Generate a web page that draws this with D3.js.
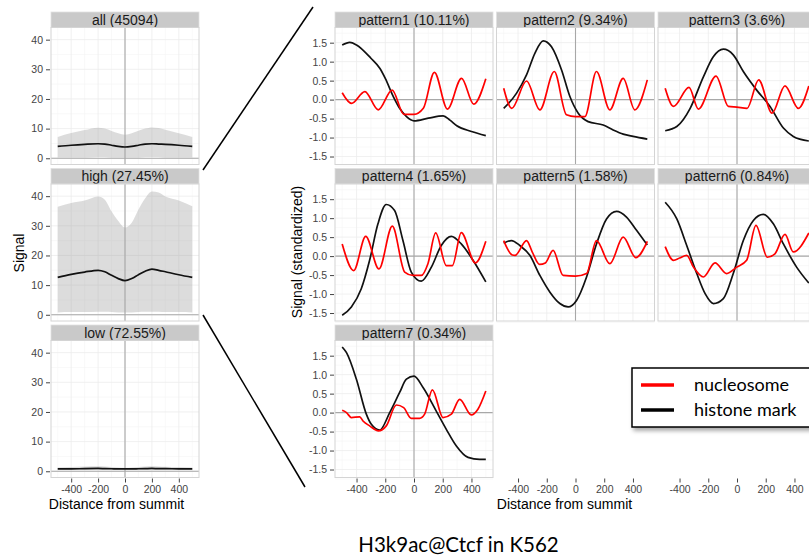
<!DOCTYPE html>
<html>
<head>
<meta charset="utf-8">
<script src="https://cdn.jsdelivr.net/npm/d3@7"></script>
<style>
  body { margin: 0; background: #fff; }
  svg { display: block; font-family: "Liberation Sans", Arial, sans-serif; }
</style>
</head>
<body>
<script>
// ---- data ----
var leftX = [-500, -400, -300, -200, -150, -100, -50, 0, 50, 100, 150, 200, 250, 300, 400, 500];
var leftNames = ['all (45094)', 'high (27.45%)', 'low (72.55%)'];
var allMean  = [4.0, 4.4, 4.7, 4.9, 4.8, 4.4, 4.0, 3.8, 4.0, 4.4, 4.8, 4.9, 4.8, 4.7, 4.4, 4.0];
var allUpper = [7.2, 8.5, 9.5, 10.3, 10.0, 9.2, 8.4, 7.9, 8.4, 9.3, 10.0, 10.4, 10.2, 9.6, 8.4, 7.2];
var allLower = [0.3, 0.3, 0.3, 0.4, 0.4, 0.3, 0.3, 0.3, 0.3, 0.3, 0.4, 0.4, 0.4, 0.3, 0.3, 0.3];
var highMean  = [12.6, 13.6, 14.4, 15.0, 14.5, 13.3, 12.2, 11.5, 12.2, 13.5, 14.7, 15.4, 15.0, 14.5, 13.5, 12.6];
var highUpper = [36.4, 37.7, 38.5, 39.9, 38.8, 34.9, 31.6, 29.4, 31.0, 35.5, 39.3, 41.6, 41.2, 39.9, 38.5, 36.6];
var highLower = [0.8, 0.9, 0.9, 1.0, 1.0, 0.9, 0.8, 0.8, 0.8, 0.9, 1.0, 1.0, 1.0, 0.9, 0.9, 0.8];
var lowMean  = [0.8, 0.8, 0.9, 0.95, 0.9, 0.85, 0.8, 0.8, 0.8, 0.85, 0.9, 0.95, 0.9, 0.9, 0.8, 0.8];
var lowUpper = [1.3, 1.4, 1.6, 1.7, 1.6, 1.4, 1.3, 1.2, 1.3, 1.4, 1.6, 1.7, 1.6, 1.5, 1.4, 1.3];
var lowLower = [0.4, 0.4, 0.4, 0.4, 0.4, 0.4, 0.4, 0.4, 0.4, 0.4, 0.4, 0.4, 0.4, 0.4, 0.4, 0.4];

var patternNames = ['pattern1 (10.11%)', 'pattern2 (9.34%)', 'pattern3 (3.6%)', 'pattern4 (1.65%)',
  'pattern5 (1.58%)', 'pattern6 (0.84%)', 'pattern7 (0.34%)'];

var p1Mark = [[-500,1.44],[-447,1.51],[-400,1.44],[-300,1.09],[-237,0.82],[-200,0.56],[-144,0.08],[-100,-0.23],[-52,-0.45],[0,-0.56],[100,-0.49],[203,-0.43],[250,-0.54],[298,-0.69],[400,-0.84],[500,-0.95]];
var p1Nuc = [[-500,0.18],[-435,-0.1],[-342,0.21],[-249,-0.27],[-152,0.25],[-70,-0.39],[0,-0.39],[65,-0.23],[142,0.72],[233,-0.25],[331,0.56],[416,-0.12],[500,0.55]];
var p2Mark = [[-500,-0.23],[-410,0.17],[-341,0.65],[-283,1.22],[-225,1.55],[-167,1.39],[-97,0.78],[-39,0.08],[19,-0.36],[88,-0.58],[193,-0.67],[262,-0.8],[332,-0.91],[401,-0.97],[500,-1.04]];
var p2Nuc = [[-500,0.3],[-444,-0.23],[-341,0.49],[-248,-0.27],[-148,0.74],[-63,-0.4],[0,-0.45],[65,-0.45],[146,0.74],[239,-0.27],[332,0.56],[413,-0.27],[500,0.52]];
var p3Mark = [[-500,-0.82],[-419,-0.71],[-326,-0.23],[-234,0.6],[-165,1.13],[-95,1.33],[-26,1.18],[44,0.74],[137,0.25],[230,-0.18],[323,-0.75],[392,-0.97],[500,-1.09]];
var p3Nuc = [[-500,0.3],[-442,-0.18],[-334,0.32],[-269,-0.25],[-146,0.62],[-60,-0.18],[0,-0.2],[70,-0.23],[151,0.52],[244,-0.36],[334,0.36],[427,-0.23],[500,0.36]];
var p4Mark = [[-500,-1.56],[-436,-1.34],[-367,-0.86],[-309,-0.11],[-251,0.85],[-193,1.36],[-135,1.2],[-77,0.41],[-19,-0.42],[51,-0.66],[121,-0.29],[190,0.28],[260,0.52],[329,0.32],[411,-0.11],[500,-0.68]];
var p4Nuc = [[-500,0.32],[-420,-0.38],[-336,0.52],[-244,-0.34],[-151,0.79],[-65,-0.42],[-7,-0.51],[51,-0.51],[97,-0.2],[151,0.61],[225,-0.25],[267,-0.25],[329,0.62],[427,-0.18],[500,0.39]];
var p5Mark = [[-500,0.34],[-446,0.41],[-388,0.28],[-318,0.02],[-248,-0.51],[-178,-0.95],[-109,-1.25],[-51,-1.34],[7,-1.17],[77,-0.55],[146,0.32],[216,0.98],[286,1.18],[355,1.03],[425,0.68],[500,0.29]];
var p5Nuc = [[-500,0.41],[-440,0.03],[-420,0.02],[-341,0.41],[-300,0.1],[-250,-0.22],[-210,-0.18],[-156,0.15],[-86,-0.51],[0,-0.53],[77,-0.46],[146,0.41],[239,-0.2],[332,0.5],[420,-0.04],[500,0.39]];
var p6Mark = [[-500,1.42],[-419,0.98],[-350,0.28],[-280,-0.46],[-222,-0.99],[-164,-1.25],[-95,-1.12],[-26,-0.46],[44,0.41],[114,0.94],[183,1.1],[253,0.85],[323,0.32],[415,-0.29],[500,-0.71]];
var p6Nuc = [[-500,0.25],[-442,-0.11],[-400,-0.05],[-350,0.02],[-303,-0.29],[-234,-0.55],[-153,-0.18],[-72,-0.46],[-2,-0.29],[67,-0.11],[132,0.81],[211,-0.03],[264,0.06],[334,0.57],[392,0.11],[500,0.61]];
var p7Mark = [[-500,1.73],[-470,1.58],[-401,0.88],[-332,-0.04],[-297,-0.31],[-239,-0.46],[-169,0],[-100,0.53],[-53,0.88],[0,0.96],[63,0.66],[155,0.04],[225,-0.44],[295,-0.88],[376,-1.18],[457,-1.23],[500,-1.23]];
var p7Nuc = [[-500,0.06],[-470,0],[-436,-0.13],[-378,-0.11],[-355,-0.22],[-309,-0.35],[-248,-0.48],[-193,-0.35],[-123,0.2],[-72,0.13],[-19,-0.15],[39,-0.15],[74,-0.04],[128,0.6],[202,-0.13],[260,-0.04],[318,0.35],[399,-0.06],[445,0.09],[500,0.57]];

var xTicks = [-400, -200, 0, 200, 400];
var xMinor = [-500, -300, -100, 100, 300, 500];
var leftYTicks = [0, 10, 20, 30, 40];
var leftYMinor = [5, 15, 25, 35];
var rightYTicks = [-1.5, -1.0, -0.5, 0.0, 0.5, 1.0, 1.5];
var rightYMinor = [-1.75, -1.25, -0.75, -0.25, 0.25, 0.75, 1.25, 1.75];

// ---- layout ----
var W = 809, H = 557;
var rowTop = [12, 168.5, 325];
var stripH = 15.5, panelH = 137;
var leftX0 = 51, leftW = 148;
var colX0 = [335, 496.5, 658], colW = 158;

var svg = d3.select('body').append('svg').attr('width', W).attr('height', H);

var defs = svg.append('defs');
defs.append('filter').attr('id', 'shadow').attr('x', '-10%').attr('y', '-20%').attr('width', '130%').attr('height', '160%')
  .append('feDropShadow').attr('dx', 2).attr('dy', 3).attr('stdDeviation', 2)
  .attr('flood-color', '#000').attr('flood-opacity', 0.35);

var drawPanel = function(x0, top, w, label, xs, ys, yTicks, yMinor) {
  var g = svg.append('g');
  var pTop = top + stripH;
  // strip
  g.append('rect').attr('x', x0).attr('y', top).attr('width', w).attr('height', stripH)
    .attr('fill', '#c9c9c9').attr('stroke', '#e0e0e0').attr('stroke-width', 0.8);
  g.append('text').attr('x', x0 + w / 2).attr('y', top + stripH / 2 + 5)
    .attr('text-anchor', 'middle').attr('font-size', 14).attr('fill', '#1a1a1a').text(label);
  // background + grid
  g.append('rect').attr('x', x0).attr('y', pTop).attr('width', w).attr('height', panelH).attr('fill', '#fff');
  yMinor.forEach(function(v) {
    g.append('line').attr('x1', x0).attr('x2', x0 + w).attr('y1', ys(v)).attr('y2', ys(v))
      .attr('stroke', '#f5f5f5').attr('stroke-width', 0.6);
  });
  xMinor.forEach(function(v) {
    g.append('line').attr('x1', xs(v)).attr('x2', xs(v)).attr('y1', pTop).attr('y2', pTop + panelH)
      .attr('stroke', '#f5f5f5').attr('stroke-width', 0.6);
  });
  yTicks.forEach(function(v) {
    g.append('line').attr('x1', x0).attr('x2', x0 + w).attr('y1', ys(v)).attr('y2', ys(v))
      .attr('stroke', '#ececec').attr('stroke-width', 0.8);
  });
  xTicks.forEach(function(v) {
    g.append('line').attr('x1', xs(v)).attr('x2', xs(v)).attr('y1', pTop).attr('y2', pTop + panelH)
      .attr('stroke', '#ececec').attr('stroke-width', 0.8);
  });
  return g;
};

var finishPanel = function(g, x0, top, w, xs, ys) {
  var pTop = top + stripH;
  g.append('line').attr('x1', x0).attr('x2', x0 + w).attr('y1', ys(0)).attr('y2', ys(0))
    .attr('stroke', '#a8a8a8').attr('stroke-width', 1.1);
  g.append('line').attr('x1', xs(0)).attr('x2', xs(0)).attr('y1', pTop).attr('y2', pTop + panelH)
    .attr('stroke', '#a8a8a8').attr('stroke-width', 1.1);
  g.append('rect').attr('x', x0).attr('y', pTop).attr('width', w).attr('height', panelH)
    .attr('fill', 'none').attr('stroke', '#d4d4d4').attr('stroke-width', 1);
};

var tickFmt = function(d) { return d.toFixed(1); };

var styleAxis = function(sel) {
  sel.select('.domain').remove();
  sel.selectAll('.tick line').attr('stroke', '#444');
  sel.selectAll('.tick text').attr('fill', '#444').attr('font-size', 10.5)
    .attr('font-family', '"Liberation Sans", Arial, sans-serif');
};

// ---- left column ----
var leftMeans = [allMean, highMean, lowMean];
var leftUppers = [allUpper, highUpper, lowUpper];
var leftLowers = [allLower, highLower, lowLower];
var lxs = d3.scaleLinear().domain([-550, 550]).range([leftX0, leftX0 + leftW]);

leftNames.forEach(function(name, i) {
  var pTop = rowTop[i] + stripH;
  var ys = d3.scaleLinear().domain([-2.1, 44.1]).range([pTop + panelH, pTop]);
  var g = drawPanel(leftX0, rowTop[i], leftW, name, lxs, ys, leftYTicks, leftYMinor);
  var area = d3.area().x(function(d, j) { return lxs(leftX[j]); })
    .y0(function(d, j) { return ys(leftLowers[i][j]); })
    .y1(function(d) { return ys(d); })
    .curve(d3.curveMonotoneX);
  g.append('path').datum(leftUppers[i]).attr('d', area).attr('fill', '#9a9a9a').attr('fill-opacity', 0.35);
  finishPanel(g, leftX0, rowTop[i], leftW, lxs, ys);
  var line = d3.line().x(function(d, j) { return lxs(leftX[j]); }).y(function(d) { return ys(d); })
    .curve(d3.curveMonotoneX);
  g.append('path').datum(leftMeans[i]).attr('d', line).attr('fill', 'none')
    .attr('stroke', '#111').attr('stroke-width', 1.7);
  var ya = svg.append('g').attr('transform', 'translate(' + (leftX0 - 1) + ',0)')
    .call(d3.axisLeft(ys).tickValues(leftYTicks).tickSize(4).tickPadding(3));
  styleAxis(ya);
});

var lxa = svg.append('g').attr('transform', 'translate(0,' + (rowTop[2] + stripH + panelH + 1) + ')')
  .call(d3.axisBottom(lxs).tickValues(xTicks).tickSize(4).tickPadding(3).tickFormat(String));
styleAxis(lxa);

svg.append('text').attr('x', 116.5).attr('y', 509).attr('text-anchor', 'middle')
  .attr('font-size', 14).attr('fill', '#000').text('Distance from summit');
svg.append('text').attr('transform', 'translate(24,253) rotate(-90)').attr('text-anchor', 'middle')
  .attr('font-size', 14).attr('fill', '#000').text('Signal');

// ---- pattern grid ----
var marks = [p1Mark, p2Mark, p3Mark, p4Mark, p5Mark, p6Mark, p7Mark];
var nucs = [p1Nuc, p2Nuc, p3Nuc, p4Nuc, p5Nuc, p6Nuc, p7Nuc];

patternNames.forEach(function(name, i) {
  var col = i % 3, row = Math.floor(i / 3);
  var x0 = colX0[col], pTop = rowTop[row] + stripH;
  var xs = d3.scaleLinear().domain([-550, 550]).range([x0, x0 + colW]);
  var ys = d3.scaleLinear().domain([-1.71, 1.9]).range([pTop + panelH, pTop]);
  var g = drawPanel(x0, rowTop[row], colW, name, xs, ys, rightYTicks, rightYMinor);
  finishPanel(g, x0, rowTop[row], colW, xs, ys);
  var line = d3.line().x(function(d) { return xs(d[0]); }).y(function(d) { return ys(d[1]); })
    .curve(d3.curveMonotoneX);
  g.append('path').datum(marks[i]).attr('d', line).attr('fill', 'none')
    .attr('stroke', '#111').attr('stroke-width', 1.7);
  g.append('path').datum(nucs[i]).attr('d', line).attr('fill', 'none')
    .attr('stroke', '#ff0000').attr('stroke-width', 1.7);
  if (col === 0) {
    var ya = svg.append('g').attr('transform', 'translate(' + (x0 - 1) + ',0)')
      .call(d3.axisLeft(ys).tickValues(rightYTicks).tickSize(4).tickPadding(3).tickFormat(tickFmt));
    styleAxis(ya);
  }
});

colX0.forEach(function(x0) {
  var xs = d3.scaleLinear().domain([-550, 550]).range([x0, x0 + colW]);
  var xa = svg.append('g').attr('transform', 'translate(0,' + (rowTop[2] + stripH + panelH + 1) + ')')
    .call(d3.axisBottom(xs).tickValues(xTicks).tickSize(4).tickPadding(3).tickFormat(String));
  styleAxis(xa);
});

svg.append('text').attr('x', 564.5).attr('y', 509).attr('text-anchor', 'middle')
  .attr('font-size', 14).attr('fill', '#000').text('Distance from summit');
svg.append('text').attr('transform', 'translate(302,252) rotate(-90)').attr('text-anchor', 'middle')
  .attr('font-size', 14).attr('fill', '#000').text('Signal (standardized)');

// ---- zoom lines ----
svg.append('line').attr('x1', 203).attr('y1', 170).attr('x2', 313).attr('y2', 7)
  .attr('stroke', '#000').attr('stroke-width', 1.5);
svg.append('line').attr('x1', 203).attr('y1', 315).attr('x2', 305).attr('y2', 487)
  .attr('stroke', '#000').attr('stroke-width', 1.5);

// ---- legend ----
var legendKeys = ['nucleosome', 'histone mark'];
var legendColors = ['#ff0000', '#000000'];
var lg = svg.append('g');
lg.append('rect').attr('x', 632).attr('y', 368).attr('width', 190).attr('height', 59)
  .attr('fill', '#fff').attr('stroke', '#000').attr('stroke-width', 1.5).attr('filter', 'url(#shadow)');
legendKeys.forEach(function(k, i) {
  var y = 385 + i * 25;
  lg.append('line').attr('x1', 641).attr('x2', 674).attr('y1', y).attr('y2', y)
    .attr('stroke', legendColors[i]).attr('stroke-width', 3.5);
  lg.append('text').attr('x', 694).attr('y', y + 6).attr('font-family', 'Lato, "Open Sans", sans-serif')
    .attr('font-size', 18).attr('fill', '#000').text(k);
});

// ---- title ----
svg.append('text').attr('x', 458.5).attr('y', 552).attr('text-anchor', 'middle')
  .attr('font-family', 'Lato, "Open Sans", sans-serif').attr('font-size', 20.5).attr('fill', '#000')
  .text('H3k9ac@Ctcf in K562');
</script>
</body>
</html>
